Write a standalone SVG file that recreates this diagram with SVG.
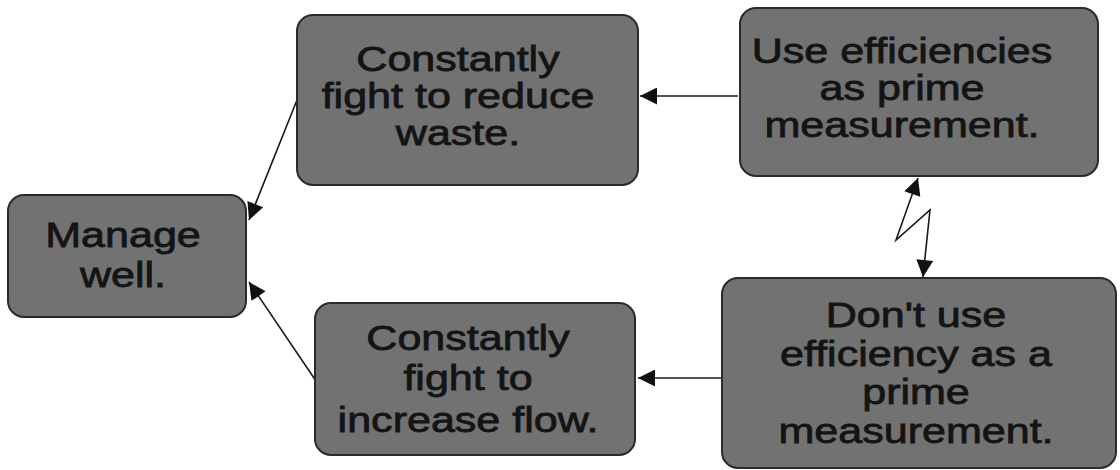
<svg xmlns="http://www.w3.org/2000/svg" width="1120" height="470" viewBox="0 0 1120 470">
<style>
.box{fill:#727272;stroke:#2a2a2a;stroke-width:2}
.lbl{font-family:"Liberation Sans",Arial,sans-serif;font-size:35px;fill:#141414;stroke:#141414;stroke-width:0.8;text-anchor:middle}
.con{stroke:#1a1a1a;stroke-width:1.6;fill:none}
</style>
<defs>
<marker id="ah" viewBox="0 0 10 10" refX="10" refY="5" markerWidth="20" markerHeight="17" markerUnits="userSpaceOnUse" orient="auto-start-reverse">
<path d="M0,0 L10,5 L0,10 z" fill="#111"/>
</marker>
</defs>
<rect width="1120" height="470" fill="#fff"/>
<g id="connectors">
<line class="con" x1="738" y1="96" x2="640" y2="96" marker-end="url(#ah)"/>
<line class="con" x1="722" y1="378" x2="638" y2="378" marker-end="url(#ah)"/>
<line class="con" x1="297" y1="100" x2="249" y2="220" marker-end="url(#ah)"/>
<line class="con" x1="316" y1="381" x2="249" y2="282" marker-end="url(#ah)"/>
<path class="con" d="M918,178 L896,240 L930,210 L923,277" stroke-width="2.5" marker-start="url(#ah)" marker-end="url(#ah)"/>
</g>
<g id="manage">
<rect class="box" x="8" y="195" width="238" height="122" rx="16"/>
<text class="lbl" transform="translate(123,0) scale(1.23,1)"><tspan x="0" y="247">Manage</tspan><tspan x="0" y="287">well.</tspan></text>
</g>
<g id="reduce">
<rect class="box" x="297" y="15" width="341" height="170" rx="16"/>
<text class="lbl" transform="translate(458,0) scale(1.23,1)"><tspan x="0" y="71">Constantly</tspan><tspan x="0" y="108">fight to reduce</tspan><tspan x="0" y="145">waste.</tspan></text>
</g>
<g id="use">
<rect class="box" x="740" y="8" width="358" height="168" rx="16"/>
<text class="lbl" transform="translate(902,0) scale(1.23,1)"><tspan x="0" y="63">Use efficiencies</tspan><tspan x="0" y="100">as prime</tspan><tspan x="0" y="137">measurement.</tspan></text>
</g>
<g id="dontuse">
<rect class="box" x="722" y="278" width="394" height="190" rx="16"/>
<text class="lbl" transform="translate(916,0) scale(1.23,1)"><tspan x="0" y="327">Don't use</tspan><tspan x="0" y="366">efficiency as a</tspan><tspan x="0" y="404">prime</tspan><tspan x="0" y="443">measurement.</tspan></text>
</g>
<g id="flow">
<rect class="box" x="315" y="303" width="320" height="152" rx="16"/>
<text class="lbl" transform="translate(468,0) scale(1.23,1)"><tspan x="0" y="350">Constantly</tspan><tspan x="0" y="390">fight to</tspan><tspan x="0" y="432">increase flow.</tspan></text>
</g>
</svg>
